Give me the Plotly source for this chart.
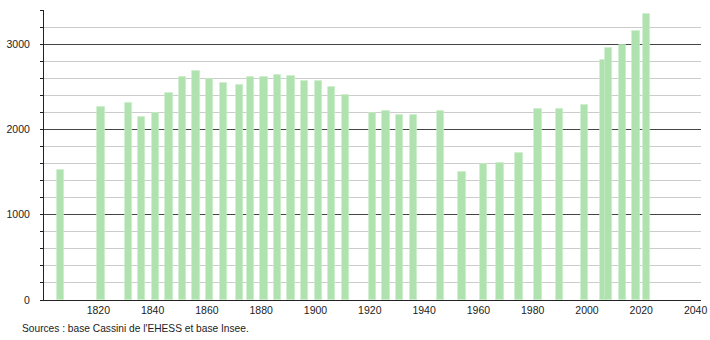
import plotly.graph_objects as go

years = [1806, 1821, 1831, 1836, 1841, 1846, 1851, 1856, 1861, 1866, 1872, 1876,
         1881, 1886, 1891, 1896, 1901, 1906, 1911, 1921, 1926, 1931, 1936, 1946,
         1954, 1962, 1968, 1975, 1982, 1990, 1999, 2006, 2008, 2013, 2018, 2022]
population = [1530, 2267, 2314, 2141, 2188, 2431, 2612, 2682, 2588, 2541, 2518, 2612,
              2612, 2643, 2627, 2565, 2565, 2502, 2408, 2188, 2220, 2173, 2165, 2212,
              1506, 1596, 1608, 1725, 2243, 2243, 2290, 2808, 2949, 2988, 3153, 3349]

x_ticks = [1820, 1840, 1860, 1880, 1900, 1920, 1940, 1960, 1980, 2000, 2020, 2040]
y_ticks = [0, 1000, 2000, 3000]
source_text = "Sources : base Cassini de l'EHESS et base Insee."

fig = go.Figure()
fig.add_trace(go.Bar(
    x=years, y=population, width=2.7,
    marker=dict(color="#afe2af", line=dict(color="rgba(200,238,200,0.8)", width=0.8)),
    hoverinfo="x+y",
))

fig.update_layout(
    width=710, height=340,
    margin=dict(l=44, r=9, t=10, b=40),
    paper_bgcolor="white", plot_bgcolor="white",
    showlegend=False,
    bargap=0,
    font=dict(family="Liberation Sans, Arial, sans-serif", size=10.5, color="#222"),
    xaxis=dict(
        range=[1800, 2042], tickvals=x_ticks, ticks="", showgrid=False,
        showline=True, linecolor="#222", linewidth=1, zeroline=False,
        tickfont=dict(size=10.5), automargin=False,
    ),
    yaxis=dict(
        range=[0, 3400], tickvals=y_ticks, ticks="outside", ticklen=3,
        tickcolor="#222", showline=True, linecolor="#222", linewidth=1,
        showgrid=True, gridcolor="#444", gridwidth=1, zeroline=False,
        ticklabelstandoff=8, automargin=False,
        minor=dict(dtick=200, tick0=0, ticks="outside", ticklen=3, tickcolor="#222",
                   showgrid=True, gridcolor="#cccccc", gridwidth=1),
        tickfont=dict(size=10.5),
    ),
    annotations=[dict(
        text=source_text, xref="paper", yref="paper", x=-0.037, y=-0.072,
        xanchor="left", yanchor="top", showarrow=False,
        font=dict(size=10.2, color="#222"),
    )],
)

fig.write_html("out.html")
